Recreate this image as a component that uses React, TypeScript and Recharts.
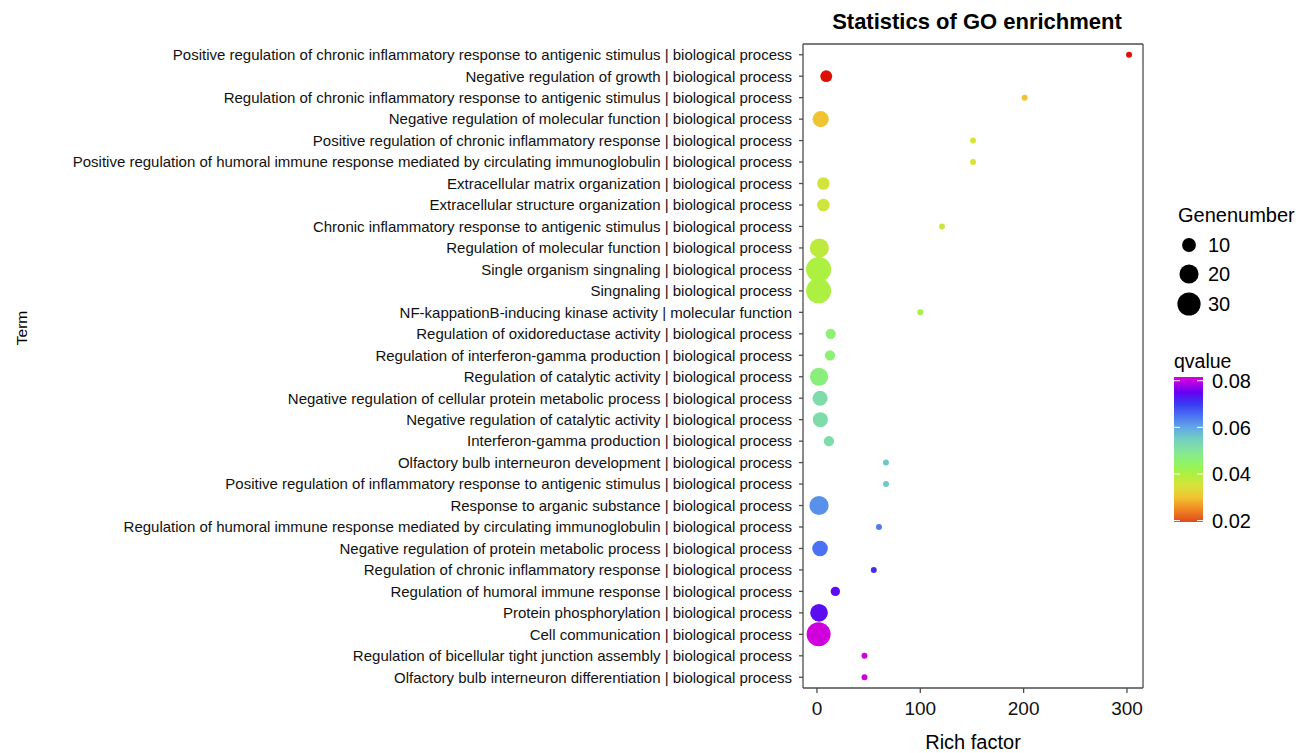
import React from 'react';
import { ScatterChart, Scatter, XAxis, YAxis, ZAxis, Cell } from 'recharts';

const terms = [
  'Positive regulation of chronic inflammatory response to antigenic stimulus | biological process',
  'Negative regulation of growth | biological process',
  'Regulation of chronic inflammatory response to antigenic stimulus | biological process',
  'Negative regulation of molecular function | biological process',
  'Positive regulation of chronic inflammatory response | biological process',
  'Positive regulation of humoral immune response mediated by circulating immunoglobulin | biological process',
  'Extracellular matrix organization | biological process',
  'Extracellular structure organization | biological process',
  'Chronic inflammatory response to antigenic stimulus | biological process',
  'Regulation of molecular function | biological process',
  'Single organism singnaling | biological process',
  'Singnaling | biological process',
  'NF-kappationB-inducing kinase activity | molecular function',
  'Regulation of oxidoreductase activity | biological process',
  'Regulation of interferon-gamma production | biological process',
  'Regulation of catalytic activity | biological process',
  'Negative regulation of cellular protein metabolic process | biological process',
  'Negative regulation of catalytic activity | biological process',
  'Interferon-gamma production | biological process',
  'Olfactory bulb interneuron development | biological process',
  'Positive regulation of inflammatory response to antigenic stimulus | biological process',
  'Response to arganic substance | biological process',
  'Regulation of humoral immune response mediated by circulating immunoglobulin | biological process',
  'Negative regulation of protein metabolic process | biological process',
  'Regulation of chronic inflammatory response | biological process',
  'Regulation of humoral immune response | biological process',
  'Protein phosphorylation | biological process',
  'Cell communication | biological process',
  'Regulation of bicellular tight junction assembly | biological process',
  'Olfactory bulb interneuron differentiation | biological process',
];

const richFactor = [302, 9, 201, 3.6, 151, 151, 6.2, 6.2, 121, 2.3, 1.6, 1.6, 100, 13.3, 12.6, 2, 3, 3.3, 11.6, 66.8, 66.8, 2, 60, 3, 55, 17.8, 2, 1.6, 46, 46];
const geneNumber = [1, 7, 1, 14, 1, 1, 8, 8, 1, 20, 35, 35, 1, 5, 5, 18, 12, 12, 5, 1, 1, 20, 1, 13, 1, 4, 17, 32, 1, 1];
const qvalue = [0.012, 0.012, 0.030, 0.030, 0.035, 0.035, 0.036, 0.036, 0.037, 0.038, 0.040, 0.040, 0.041, 0.046, 0.046, 0.047, 0.052, 0.052, 0.052, 0.056, 0.056, 0.062, 0.064, 0.065, 0.071, 0.074, 0.074, 0.081, 0.081, 0.081];

const xTicks = [0, 100, 200, 300];
const sizeLegendValues = [10, 20, 30];
const qTicks = [0.02, 0.04, 0.06, 0.08];

const qStops: [number, string][] = [
  [0.010, '#dd0000'],
  [0.020, '#e2501c'],
  [0.025, '#f08a22'],
  [0.030, '#f0c431'],
  [0.035, '#d9e23a'],
  [0.040, '#acf041'],
  [0.045, '#8ef46a'],
  [0.050, '#84e49a'],
  [0.055, '#72d0c0'],
  [0.060, '#62a6e8'],
  [0.065, '#4a72f2'],
  [0.070, '#3a3af2'],
  [0.075, '#6400f2'],
  [0.080, '#c800e2'],
  [0.0816, '#d400d8'],
];

const hex = (h: string) => [1, 3, 5].map((i) => parseInt(h.slice(i, i + 2), 16));
const qColor = (q: number) => {
  if (q <= qStops[0][0]) return qStops[0][1];
  for (let i = 1; i < qStops.length; i++) {
    if (q <= qStops[i][0]) {
      const [q0, c0] = qStops[i - 1];
      const [q1, c1] = qStops[i];
      const t = (q - q0) / (q1 - q0);
      const a = hex(c0);
      const b = hex(c1);
      const m = a.map((v, k) => Math.round(v + (b[k] - v) * t));
      return `rgb(${m[0]},${m[1]},${m[2]})`;
    }
  }
  return qStops[qStops.length - 1][1];
};

const Z_DOMAIN: [number, number] = [1, 35];
const Z_RANGE: [number, number] = [28, 491];
const diameterFor = (v: number) => {
  const area = Z_RANGE[0] + ((v - Z_DOMAIN[0]) / (Z_DOMAIN[1] - Z_DOMAIN[0])) * (Z_RANGE[1] - Z_RANGE[0]);
  return 2 * Math.sqrt(area / Math.PI);
};

const data = terms.map((term, i) => ({ term, rich: richFactor[i], genes: geneNumber[i], q: qvalue[i] }));

const FONT = 'Liberation Sans, Arial, Helvetica, sans-serif';
const W = 1310;
const H = 753;
const BAR_TOP = 377;
const BAR_BOTTOM = 522;
const Q_TOP = 0.0816;
const Q_BOTTOM = 0.0194;
const qToY = (q: number) => BAR_TOP + ((Q_TOP - q) / (Q_TOP - Q_BOTTOM)) * (BAR_BOTTOM - BAR_TOP);
const FRAME = { stroke: '#4d4d4d', strokeWidth: 1.3 };

export default function App() {
  return (
    <div style={{ position: 'absolute', left: 0, top: 0, width: W, height: H, background: '#fff', fontFamily: FONT }}>
      <ScatterChart width={W} height={H} margin={{ top: 43, right: 166, bottom: 0, left: 0 }}>
        <XAxis
          type="number"
          dataKey="rich"
          domain={[-13.5, 315.5]}
          ticks={xTicks}
          allowDataOverflow
          height={65}
          axisLine={FRAME}
          tickSize={5}
          tickMargin={9}
          tickLine={FRAME}
          tick={{ fontSize: 19, fill: '#111', fontFamily: FONT }}
        />
        <XAxis
          xAxisId="top"
          orientation="top"
          type="number"
          domain={[0, 1]}
          ticks={[0]}
          height={1}
          tick={false}
          tickLine={false}
          axisLine={FRAME}
        />
        <YAxis
          type="category"
          dataKey="term"
          width={803}
          reversed
          interval={0}
          axisLine={FRAME}
          tickSize={4}
          tickMargin={7}
          tickLine={FRAME}
          tick={{ fontSize: 15, fill: '#111', fontFamily: FONT }}
        />
        <YAxis
          yAxisId="right"
          orientation="right"
          type="number"
          domain={[0, 1]}
          ticks={[0]}
          width={1}
          tick={false}
          tickLine={false}
          axisLine={FRAME}
        />
        <ZAxis type="number" dataKey="genes" domain={Z_DOMAIN} range={Z_RANGE} />
        <Scatter data={data} isAnimationActive={false} shape="circle">
          {data.map((d, i) => (
            <Cell key={i} fill={qColor(d.q)} />
          ))}
        </Scatter>
      </ScatterChart>
      <svg width={W} height={H} style={{ position: 'absolute', left: 0, top: 0, pointerEvents: 'none' }}>
        <defs>
          <linearGradient id="qgrad" x1="0" y1="0" x2="0" y2="1">
            {qStops
              .filter(([q]) => q >= Q_BOTTOM)
              .map(([q, c]) => ({ q, c }))
              .concat([{ q: Q_BOTTOM, c: qColor(Q_BOTTOM) }])
              .sort((a, b) => b.q - a.q)
              .map(({ q, c }, i) => (
                <stop key={i} offset={`${((Q_TOP - q) / (Q_TOP - Q_BOTTOM)) * 100}%`} stopColor={c} />
              ))}
          </linearGradient>
        </defs>
        <text x={977} y={29} textAnchor="middle" fontSize={22} fontWeight="bold" fill="#000" fontFamily={FONT}>
          Statistics of GO enrichment
        </text>
        <text x={973} y={749} textAnchor="middle" fontSize={20} fill="#000" fontFamily={FONT}>
          Rich factor
        </text>
        <text x={0} y={0} transform="translate(27,328) rotate(-90)" textAnchor="middle" fontSize={15.5} fill="#000" fontFamily={FONT}>
          Term
        </text>
        <text x={1178} y={222} fontSize={20} fill="#000" fontFamily={FONT}>Genenumber</text>
        {sizeLegendValues.map((v, i) => {
          const cy = [245, 274, 304][i];
          return (
            <g key={v}>
              <circle cx={1189} cy={cy} r={diameterFor(v) / 2} fill="#000" />
              <text x={1208} y={cy} dy="0.36em" fontSize={20} fill="#000" fontFamily={FONT}>{v}</text>
            </g>
          );
        })}
        <text x={1174} y={368} fontSize={19.5} fill="#000" fontFamily={FONT}>qvalue</text>
        <rect x={1174} y={BAR_TOP} width={29} height={BAR_BOTTOM - BAR_TOP} fill="url(#qgrad)" />
        {qTicks.map((q) => {
          const y = qToY(q);
          return (
            <g key={q}>
              <line x1={1174} x2={1180} y1={y} y2={y} stroke="#fff" strokeWidth={1} />
              <line x1={1197} x2={1203} y1={y} y2={y} stroke="#fff" strokeWidth={1} />
              <text x={1212} y={y} dy="0.36em" fontSize={20} fill="#000" fontFamily={FONT}>{q.toFixed(2)}</text>
            </g>
          );
        })}
      </svg>
    </div>
  );
}
